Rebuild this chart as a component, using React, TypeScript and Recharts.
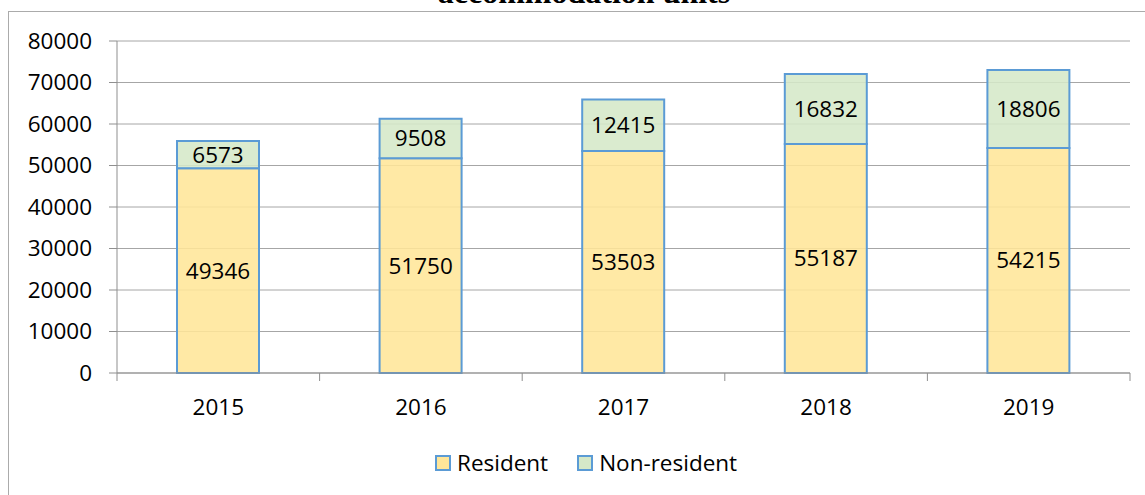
import React from 'react';
import { BarChart, Bar, XAxis, YAxis, CartesianGrid, LabelList } from 'recharts';

const years = ['2015', '2016', '2017', '2018', '2019'];
const resident = [49346, 51750, 53503, 55187, 54215];
const nonResident = [6573, 9508, 12415, 16832, 18806];
const yTicks = [0, 10000, 20000, 30000, 40000, 50000, 60000, 70000, 80000];

const series = [
  { key: 'resident', name: 'Resident', fill: '#FFE699' },
  { key: 'nonResident', name: 'Non-resident', fill: '#D5E8C8' },
];

const data = years.map((y, i) => ({ year: y, resident: resident[i], nonResident: nonResident[i] }));

const W = 1145;
const H = 495;
const MARGIN = { top: 41, right: 15, left: 0, bottom: 92 };
const Y_AXIS_W = 117;
const X_AXIS_H = 30;
const PLOT_BOTTOM = H - MARGIN.bottom - X_AXIS_H;
const PLOT_W = W - MARGIN.left - MARGIN.right - Y_AXIS_W;
const BAND = PLOT_W / years.length;

const FONT = "'Open Sans', sans-serif";
const FS = 22.5;
const AXIS_GREY = '#8f8f8f';
const BORDER = '#5B9BD5';

// ticks sit between categories, like Excel does
const XTick = (props: any) => {
  const { x, payload, index } = props;
  const half = BAND / 2;
  return (
    <g>
      <line x1={x - half} x2={x - half} y1={PLOT_BOTTOM} y2={PLOT_BOTTOM + 8} stroke={AXIS_GREY} />
      {index === years.length - 1 && (
        <line x1={x + half} x2={x + half} y1={PLOT_BOTTOM} y2={PLOT_BOTTOM + 8} stroke={AXIS_GREY} />
      )}
      <text x={x} y={PLOT_BOTTOM + 33} textAnchor="middle" dominantBaseline="central"
        fontFamily={FONT} fontSize={FS} fill="#000">
        {payload.value}
      </text>
    </g>
  );
};

export default function App() {
  return (
    <div style={{ position: 'absolute', left: 0, top: 0, width: W, height: H, overflow: 'hidden', background: '#fff' }}>
      <svg width={W} height={H} style={{ position: 'absolute', left: 0, top: 0 }}>
        <text x={584} y={3} textAnchor="middle" fontFamily="'Liberation Serif', serif" fontWeight="bold" fontSize={32} fill="#000">
          accommodation units
        </text>
        <line x1={8} x2={W} y1={11.5} y2={11.5} stroke="#ababab" />
        <line x1={8.5} x2={8.5} y1={11} y2={H} stroke="#ababab" />
      </svg>
      <div style={{ position: 'absolute', left: 0, top: 0 }}>
        <BarChart width={W} height={H} data={data} margin={MARGIN}>
          <CartesianGrid vertical={false} stroke="#a6a6a6" />
          <XAxis dataKey="year" height={X_AXIS_H} axisLine={{ stroke: AXIS_GREY }} tickLine={false}
            tick={<XTick />} interval={0} />
          <YAxis width={Y_AXIS_W} domain={[0, 80000]} ticks={yTicks} interval={0}
            axisLine={{ stroke: AXIS_GREY }} tickLine={{ stroke: AXIS_GREY }} tickSize={8} tickMargin={17}
            tick={{ fontFamily: FONT, fontSize: FS, fill: '#000' }} />
          {series.map(s => (
            <Bar key={s.key} dataKey={s.key} name={s.name} stackId="a" barSize={82}
              fill={s.fill} fillOpacity={0.88} stroke={BORDER} strokeWidth={2} isAnimationActive={false}>
              <LabelList dataKey={s.key} position="center" fontFamily={FONT} fontSize={FS} fill="#000" />
            </Bar>
          ))}
        </BarChart>
      </div>
      <div style={{ position: 'absolute', left: 435, top: 447, display: 'flex', alignItems: 'center', fontFamily: FONT, fontSize: FS }}>
        {series.map((s, i) => (
          <div key={s.key} style={{ display: 'flex', alignItems: 'center', marginRight: i === 0 ? 29 : 0 }}>
            <span style={{ width: 12, height: 12, border: `2px solid ${BORDER}`, background: s.fill, marginRight: 6, display: 'inline-block' }} />
            <span>{s.name}</span>
          </div>
        ))}
      </div>
    </div>
  );
}
